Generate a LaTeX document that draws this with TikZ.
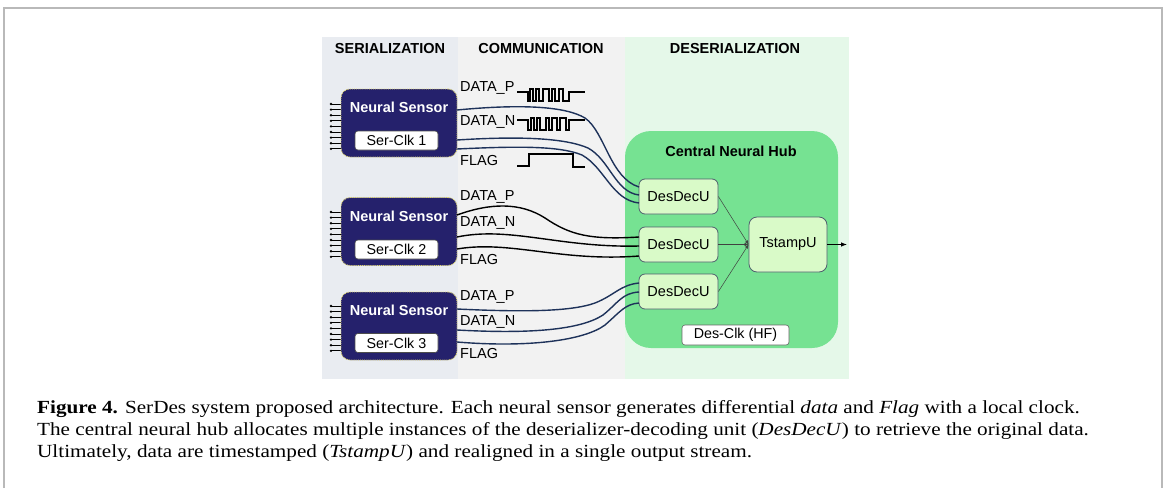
\documentclass[tikz,border=0pt]{standalone}
\usepackage{fontspec}
\setmainfont{Liberation Sans}
\newfontfamily\capfont[FakeStretch=1.145]{Liberation Serif}
\usetikzlibrary{arrows.meta}

\definecolor{serbg}{RGB}{233,236,241}
\definecolor{combg}{RGB}{242,242,242}
\definecolor{desbg}{RGB}{229,248,233}
\definecolor{sensorfill}{RGB}{37,33,108}
\definecolor{sensordot}{RGB}{225,215,110}
\definecolor{wirenavy}{RGB}{30,50,90}
\definecolor{hubgreen}{RGB}{118,226,146}
\definecolor{unitfill}{RGB}{217,250,200}
\definecolor{unitdraw}{RGB}{80,95,110}
\definecolor{framegray}{RGB}{185,185,185}

\tikzset{
  sensorbox/.style={draw=sensordot, densely dotted, line width=0.9pt, fill=sensorfill,
    rounded corners=9pt, minimum width=116pt, minimum height=68pt, inner sep=0pt},
  sensortitle/.style={text=white, font=\fontsize{14.5}{16}\selectfont\bfseries, inner sep=0pt},
  clkbox/.style={draw=black!70, line width=0.6pt, fill=white, rounded corners=3pt,
    minimum width=83pt, minimum height=19pt, inner sep=0pt, font=\fontsize{14.3}{16}\selectfont},
  header/.style={font=\fontsize{14.5}{16}\selectfont\bfseries, inner sep=0pt},
  siglabel/.style={anchor=west, font=\fontsize{14.5}{16}\selectfont, inner sep=0pt},
  hubbox/.style={fill=hubgreen, rounded corners=26pt, minimum width=213pt, minimum height=217pt, inner sep=0pt},
  unitbox/.style={draw=unitdraw, line width=0.8pt, fill=unitfill, rounded corners=6pt,
    minimum width=79pt, minimum height=35pt, inner sep=0pt, font=\fontsize{14.5}{16}\selectfont},
  navywire/.style={draw=wirenavy, line width=1.4pt},
  blackwire/.style={draw=black, line width=1.4pt},
  wave/.style={draw=black, line width=1.2pt},
  thinlink/.style={draw=black!75, line width=0.5pt, -{Latex[length=4pt,width=3.5pt]}},
  pin/.style={draw=black, line width=0.8pt},
  captext/.style={anchor=base west, inner sep=0pt, font=\capfont\fontsize{18.5}{22}\selectfont}
}

\begin{document}
\begin{tikzpicture}[x=1pt,y=-1pt]
\useasboundingbox (0,0) rectangle (1165,488);
\fill[white] (0,0) rectangle (1165,488);

% page frame
\draw[framegray, line width=1.5pt] (4,488) -- (4,8) -- (1162,8) -- (1162,488);

% stage backgrounds
\fill[serbg] (322,37) rectangle (458,379);
\fill[combg] (458,37) rectangle (625,379);
\fill[desbg] (625,37) rectangle (849,379);

\node[header] (hser) at (390,49) {SERIALIZATION};
\node[header] (hcom) at (541,49) {COMMUNICATION};
\node[header] (hdes) at (735,49) {DESERIALIZATION};

% central hub
\node[hubbox] (hub) at (731.5,239.5) {};
\node[header] (hubtitle) at (731,151) {Central Neural Hub};
\node[unitbox] (d1) at (678.5,196.5) {DesDecU};
\node[unitbox] (d2) at (678.5,244.5) {DesDecU};
\node[unitbox] (d3) at (678.5,291.5) {DesDecU};
\node[unitbox, minimum width=78pt, minimum height=55pt, rounded corners=8pt] (ts) at (788,244.5) {TstampU};
\node[clkbox, minimum width=107pt, minimum height=20pt, draw=black!60] (desclk) at (735.5,335) {Des-Clk (HF)};

\draw[thinlink] (d1.east) -- (ts.west);
\draw[thinlink] (d2.east) -- (ts.west);
\draw[thinlink] (d3.east) -- (ts.west);
\coordinate (outp) at (847,244.5);
\draw[black, line width=0.8pt, -{Latex[length=6pt,width=4.5pt]}] (ts.east) -- (outp);

% neural sensors
\foreach \n/\cy/\ty/\ky/\py in {1/123/107/140.5/104, 2/231.5/216/249.5/212, 3/326/310/343/306}{
  \foreach \i in {0,...,8}{
    \draw[pin] (331,\py+\i*5.6) -- (342,\py+\i*5.6);
    \fill (331,\py+\i*5.6) circle (1.3pt);
  }
  \node[sensorbox] (s\n) at (399,\cy) {};
  \node[sensortitle] (st\n) at (399,\ty) {Neural Sensor};
  \node[clkbox] (sc\n) at (396.5,\ky) {Ser-Clk \n};
}

% signal labels
\node[siglabel] (lp1) at (460,88) {DATA\_P};
\node[siglabel] (ln1) at (460,122) {DATA\_N};
\node[siglabel] (lf1) at (460,161) {FLAG};
\node[siglabel] (lp2) at (460,197) {DATA\_P};
\node[siglabel] (ln2) at (460,223) {DATA\_N};
\node[siglabel] (lf2) at (460,260) {FLAG};
\node[siglabel] (lp3) at (460,297) {DATA\_P};
\node[siglabel] (ln3) at (460,322) {DATA\_N};
\node[siglabel] (lf3) at (460,354) {FLAG};

% waveforms
\draw[wave] (517,92) -- ++(11,0) -- ++(0,9) -- ++(2,0) -- ++(0,-12) -- ++(3,0) -- ++(0,12)
  -- ++(3,0) -- ++(0,-12) -- ++(3,0) -- ++(0,12) -- ++(4,0) -- ++(0,-12) -- ++(6,0) -- ++(0,12)
  -- ++(3,0) -- ++(0,-12) -- ++(3,0) -- ++(0,12) -- ++(4,0) -- ++(0,-12) -- ++(4,0) -- ++(0,12)
  -- ++(6,0) -- ++(0,-9) -- ++(16,0);
\draw[wave] (517,120) -- ++(11,0) -- ++(0,10) -- ++(3,0) -- ++(0,-12) -- ++(3,0) -- ++(0,12)
  -- ++(3,0) -- ++(0,-12) -- ++(3,0) -- ++(0,12) -- ++(6,0) -- ++(0,-12) -- ++(3,0) -- ++(0,12)
  -- ++(3,0) -- ++(0,-12) -- ++(5,0) -- ++(0,12) -- ++(3,0) -- ++(0,-12) -- ++(6,0) -- ++(0,12)
  -- ++(3,0) -- ++(0,-10) -- ++(16,0);
\draw[wave] (517,166) -- (529,166) -- (529,154) -- (573,154) -- (573,167) -- (585,167);

% output ports of the sensors and input ports of the decoders
\coordinate (s1a) at (457,110);  \coordinate (s1b) at (457,140); \coordinate (s1c) at (457,149);
\coordinate (s2a) at (457,215);  \coordinate (s2b) at (457,237); \coordinate (s2c) at (457,249);
\coordinate (s3a) at (457,309);  \coordinate (s3b) at (457,330); \coordinate (s3c) at (457,342);
\coordinate (d1a) at (639,187);  \coordinate (d1b) at (639,195); \coordinate (d1c) at (639,203);
\coordinate (d2a) at (639,237);  \coordinate (d2b) at (639,246); \coordinate (d2c) at (639,256);
\coordinate (d3a) at (639,283);  \coordinate (d3b) at (639,292); \coordinate (d3c) at (639,303);

% links: sensor 1
\draw[navywire] (s1a) .. controls (520,104) and (565,106) .. (585,118)
                      .. controls (605,132) and (610,178) .. (d1a);
\draw[navywire] (s1b) .. controls (520,136) and (565,138) .. (588,148)
                      .. controls (610,160) and (615,192) .. (d1b);
\draw[navywire] (s1c) .. controls (520,146) and (560,146) .. (582,155)
                      .. controls (605,168) and (612,200) .. (d1c);

% links: sensor 2
\draw[blackwire] (s2a) .. controls (490,203) and (520,202) .. (545,218)
                       .. controls (570,235) and (590,240) .. (d2a);
\draw[blackwire] (s2b) .. controls (510,226) and (560,248) .. (d2b);
\draw[blackwire] (s2c) .. controls (510,240) and (560,262) .. (d2c);

% links: sensor 3
\draw[navywire] (s3a) .. controls (520,312) and (570,312) .. (595,303)
                      .. controls (615,295) and (620,285) .. (d3a);
\draw[navywire] (s3b) .. controls (530,334) and (580,330) .. (603,315)
                      .. controls (618,303) and (622,293) .. (d3b);
\draw[navywire] (s3c) .. controls (530,348) and (585,340) .. (605,325)
                      .. controls (620,312) and (625,304) .. (d3c);

% caption
\node[captext] (cap1) at (37,413) {\textbf{Figure 4.} SerDes system proposed architecture. Each neural sensor generates differential \textit{data} and \textit{Flag} with a local clock.};
\node[captext] (cap2) at (37,435) {The central neural hub allocates multiple instances of the deserializer-decoding unit (\textit{DesDecU}) to retrieve the original data.};
\node[captext] (cap3) at (37,457) {Ultimately, data are timestamped (\textit{TstampU}) and realigned in a single output stream.};
\end{tikzpicture}
\end{document}
